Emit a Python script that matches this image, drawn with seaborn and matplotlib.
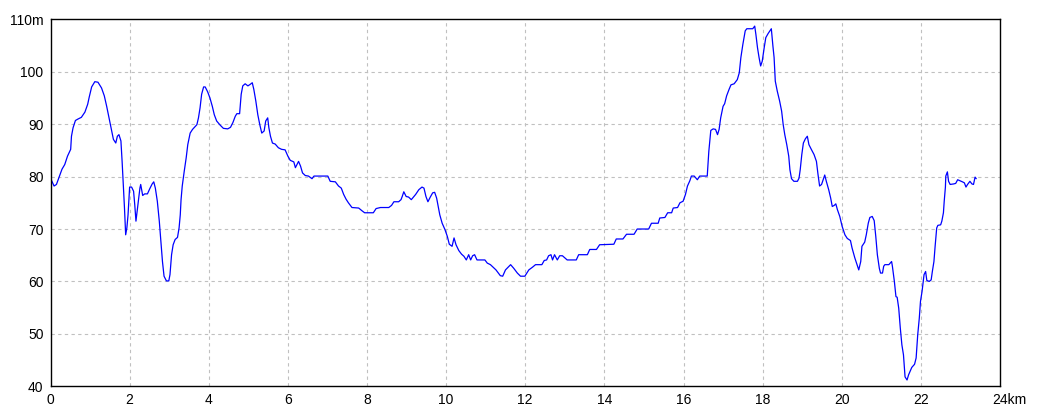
import matplotlib
matplotlib.use("Agg")
import matplotlib.pyplot as plt
import matplotlib.transforms as mtransforms
import seaborn as sns
import pandas as pd

# distance along route (km) and elevation (m)
distance_km = [
    0.00, 0.09, 0.15, 0.24, 0.29, 0.36, 0.43, 0.51, 0.53, 0.57, 0.63, 0.70,
    0.78, 0.87, 0.94, 0.98, 1.04, 1.12, 1.20, 1.29, 1.36, 1.42, 1.48, 1.54,
    1.59, 1.65, 1.69, 1.73, 1.78, 1.81, 1.84, 1.87, 1.90, 1.93, 1.96, 2.00,
    2.05, 2.10, 2.13, 2.16, 2.22, 2.26, 2.28, 2.33, 2.38, 2.45, 2.51, 2.57,
    2.61, 2.65, 2.70, 2.75, 2.79, 2.83, 2.87, 2.93, 2.99,
    3.02, 3.06, 3.10, 3.15, 3.21, 3.25, 3.28, 3.30, 3.33, 3.38, 3.43, 3.47,
    3.53, 3.59, 3.70, 3.74, 3.78, 3.82, 3.87, 3.91, 3.97, 4.03, 4.09, 4.14,
    4.20, 4.29, 4.37, 4.48, 4.55, 4.61, 4.67, 4.71, 4.78, 4.82, 4.86, 4.92,
    4.99, 5.05, 5.10, 5.14, 5.19, 5.24, 5.29, 5.34, 5.40, 5.44, 5.49, 5.52,
    5.56, 5.61, 5.68, 5.76, 5.84, 5.93, 6.00, 6.06,
    6.15, 6.19, 6.23, 6.27, 6.32, 6.37, 6.44, 6.52, 6.61, 6.66, 6.78, 7.01,
    7.07, 7.20, 7.28, 7.35, 7.41, 7.47, 7.53, 7.62, 7.79, 7.87, 7.94, 8.16,
    8.23, 8.34, 8.55, 8.62, 8.68, 8.80, 8.86, 8.89, 8.93, 8.99, 9.05, 9.12,
    9.23, 9.31, 9.39, 9.44, 9.49, 9.54, 9.60, 9.66, 9.71, 9.76, 9.80, 9.84,
    9.90, 9.97, 10.03, 10.08, 10.15, 10.20, 10.25, 10.32, 10.39, 10.45,
    10.51, 10.57, 10.62, 10.67, 10.72, 10.78, 10.98, 11.04, 11.12, 11.26,
    11.37, 11.43, 11.50, 11.63, 11.71, 11.80, 11.88, 11.99, 12.09, 12.18,
    12.26, 12.42, 12.48, 12.54, 12.59, 12.65, 12.69, 12.74, 12.81, 12.87,
    12.94, 13.06, 13.29, 13.35, 13.57, 13.63, 13.80, 13.88, 14.24, 14.30,
    14.47, 14.56, 14.75, 14.83, 15.12,
    15.19, 15.36, 15.40, 15.53, 15.60, 15.70, 15.74, 15.85, 15.91, 15.99,
    16.05, 16.10, 16.16, 16.20, 16.27, 16.35, 16.41, 16.60, 16.64, 16.69,
    16.75, 16.81, 16.86, 16.90, 16.94, 17.00, 17.04, 17.09, 17.15, 17.20,
    17.28, 17.36, 17.41, 17.45, 17.50, 17.56, 17.60, 17.68, 17.75, 17.80,
    17.83, 17.87, 17.91, 17.95, 17.99, 18.04, 18.08, 18.14,
    18.22, 18.26, 18.29, 18.32, 18.37, 18.43, 18.48, 18.52, 18.56, 18.61,
    18.66, 18.69, 18.73, 18.79, 18.88, 18.92, 18.95, 18.99, 19.03, 19.08,
    19.13, 19.17, 19.23, 19.30, 19.36, 19.40, 19.44, 19.49, 19.53, 19.57,
    19.61, 19.67, 19.72, 19.76, 19.81, 19.85, 19.89, 19.95, 20.01, 20.08,
    20.14, 20.22, 20.26, 20.33, 20.39, 20.43, 20.48, 20.51, 20.58, 20.62,
    20.67, 20.71, 20.77, 20.82, 20.86, 20.90, 20.95, 20.98, 21.03, 21.06,
    21.09, 21.19, 21.26,
    21.28, 21.33, 21.37, 21.40, 21.44, 21.48, 21.52, 21.56, 21.60, 21.65,
    21.69, 21.73, 21.77, 21.84, 21.88, 21.92, 21.96, 21.99, 22.03, 22.06,
    22.08, 22.12, 22.15, 22.21, 22.26, 22.29, 22.33, 22.36, 22.40, 22.43,
    22.50, 22.53, 22.57, 22.59, 22.62, 22.63, 22.67, 22.70, 22.74, 22.83,
    22.88, 22.93, 22.99, 23.05, 23.10, 23.14, 23.18, 23.24, 23.29, 23.33,
    23.37, 23.40,
]
elevation_m = [
    79.7, 78.2, 78.5, 80.4, 81.4, 82.3, 83.9, 85.2, 87.7, 89.3, 90.7, 91.0,
    91.3, 92.3, 93.8, 95.2, 97.1, 98.1, 98.0, 96.9, 95.4, 93.4, 91.2, 89.0,
    87.1, 86.4, 87.7, 88.0, 86.8, 82.9, 78.5, 74.0, 68.9, 70.2, 72.7, 78.0,
    78.0, 77.2, 74.6, 71.5, 75.3, 77.8, 78.5, 76.4, 76.7, 76.7, 77.7, 78.6,
    79.0, 77.8, 75.3, 71.5, 67.6, 63.8, 61.0, 60.1, 60.1,
    61.3, 65.1, 67.0, 68.0, 68.4, 70.2, 72.7, 75.6, 78.2, 81.0, 83.6, 86.1,
    88.3, 89.0, 89.9, 91.2, 93.1, 95.7, 97.1, 97.1, 96.2, 95.0, 93.4, 91.8,
    90.6, 89.8, 89.2, 89.1, 89.4, 90.3, 91.5, 92.0, 92.0, 95.7, 97.3, 97.7,
    97.3, 97.6, 97.9, 96.6, 94.4, 91.8, 89.9, 88.3, 88.7, 90.6, 91.2, 89.3,
    87.7, 86.4, 86.2, 85.5, 85.2, 85.1, 83.9, 83.1,
    82.8, 81.7, 82.3, 82.9, 82.0, 80.7, 80.2, 80.1, 79.6, 80.1, 80.1, 80.1,
    79.1, 79.0, 78.2, 77.8, 76.6, 75.7, 75.0, 74.1, 74.0, 73.5, 73.1, 73.1,
    73.9, 74.1, 74.1, 74.5, 75.2, 75.2, 75.6, 76.2, 77.1, 76.2, 76.1, 75.6,
    76.6, 77.5, 78.0, 77.8, 76.2, 75.2, 76.1, 76.9, 77.0, 75.9, 74.3, 72.7,
    71.1, 69.9, 68.6, 67.1, 66.7, 68.3, 67.0, 65.9, 65.2, 64.8,
    64.1, 65.1, 64.1, 64.9, 65.1, 64.1, 64.1, 63.5, 63.2, 62.2,
    61.1, 61.0, 62.2, 63.2, 62.5, 61.6, 61.0, 61.0, 62.2, 62.7,
    63.2, 63.2, 64.0, 64.1, 64.9, 65.1, 64.1, 65.1, 64.1, 64.9,
    64.9, 64.1, 64.1, 65.1, 65.1, 66.1, 66.1, 67.0, 67.1, 68.1,
    68.1, 69.0, 69.0, 70.0, 70.0,
    71.1, 71.1, 72.1, 72.2, 73.1, 73.1, 74.0, 74.1, 75.0, 75.3,
    76.6, 78.2, 79.2, 80.1, 80.1, 79.4, 80.1, 80.1, 84.8, 88.8,
    89.1, 89.0, 88.0, 89.0, 91.2, 93.4, 93.9, 95.4, 96.6, 97.5,
    97.7, 98.5, 99.8, 102.7, 105.2, 107.8, 108.2, 108.2, 108.2, 108.7,
    107.1, 104.6, 102.7, 101.1, 102.0, 104.6, 106.5, 107.3,
    108.2, 104.9, 102.7, 98.2, 96.3, 94.4, 92.5, 89.9, 88.0, 86.1,
    83.9, 81.3, 79.6, 79.1, 79.1, 79.7, 81.3, 84.2, 86.4, 87.2,
    87.7, 86.1, 85.2, 84.2, 82.9, 80.4, 78.2, 78.5, 79.4, 80.3,
    79.1, 77.5, 75.9, 74.3, 74.5, 74.8, 73.7, 72.4, 70.5, 68.9,
    68.2, 67.8, 66.4, 64.5, 63.1, 62.2, 63.8, 66.7, 67.5, 68.9,
    71.1, 72.2, 72.4, 71.6, 68.6, 65.1, 62.5, 61.6, 61.6, 62.9,
    63.2, 63.2, 63.8,
    62.9, 60.0, 57.1, 57.0, 54.9, 51.1, 47.9, 46.0, 41.8, 41.2,
    42.2, 42.9, 43.6, 44.2, 45.4, 49.8, 53.0, 56.2, 58.1, 60.0,
    61.3, 61.9, 60.2, 60.0, 60.3, 61.9, 63.8, 66.7, 70.2, 70.7,
    70.8, 71.5, 73.1, 75.3, 78.0, 80.1, 80.9, 79.1, 78.5, 78.6,
    78.7, 79.4, 79.2, 79.0, 78.8, 78.0, 78.5, 79.1, 78.6, 78.5,
    79.9, 79.6,
]

x_ticks = list(range(0, 25, 2))
x_labels = [str(t) for t in x_ticks[:-1]] + ["24km"]
y_ticks = list(range(40, 111, 10))
y_labels = [str(t) for t in y_ticks[:-1]] + ["110m"]

df = pd.DataFrame({"km": distance_km, "elev": elevation_m})

sns.set_style("white")
plt.rcParams["font.family"] = ["Liberation Sans", "DejaVu Sans"]

fig = plt.figure(figsize=(10.4, 4.16), dpi=100)
ax = fig.add_axes([50.5 / 1040, 1 - 386.3 / 416, (1000 - 50.5) / 1040, (386.3 - 19.3) / 416])

sns.lineplot(data=df, x="km", y="elev", color="#0000ff", linewidth=0.9, ax=ax)

ax.set_xlim(0, 24)
ax.set_ylim(40, 110)
ax.set_xticks(x_ticks)
ax.set_xticklabels(x_labels, fontsize=10, color="black")
ax.set_yticks(y_ticks)
ax.set_yticklabels(y_labels, fontsize=10, color="black")
ax.set_xlabel("")
ax.set_ylabel("")
ax.tick_params(length=0, pad=5)

# dashed grid, only on inner ticks
for t in x_ticks[1:-1]:
    ax.axvline(t, color="#c0c0c0", linestyle=(0, (3, 3)), linewidth=0.8, zorder=0)
for t in y_ticks[1:-1]:
    ax.axhline(t, color="#c0c0c0", linestyle=(0, (3, 3)), linewidth=0.8, zorder=0)

for s in ax.spines.values():
    s.set_color("black")
    s.set_linewidth(1.0)

# "24km": keep the number centred on its tick, unit hanging to the right
last = ax.get_xticklabels()[-1]
last.set_horizontalalignment("left")
last.set_transform(last.get_transform() + mtransforms.ScaledTranslation(-7.8 / 100, 0, fig.dpi_scale_trans))

fig.savefig("out.png", dpi=100)
